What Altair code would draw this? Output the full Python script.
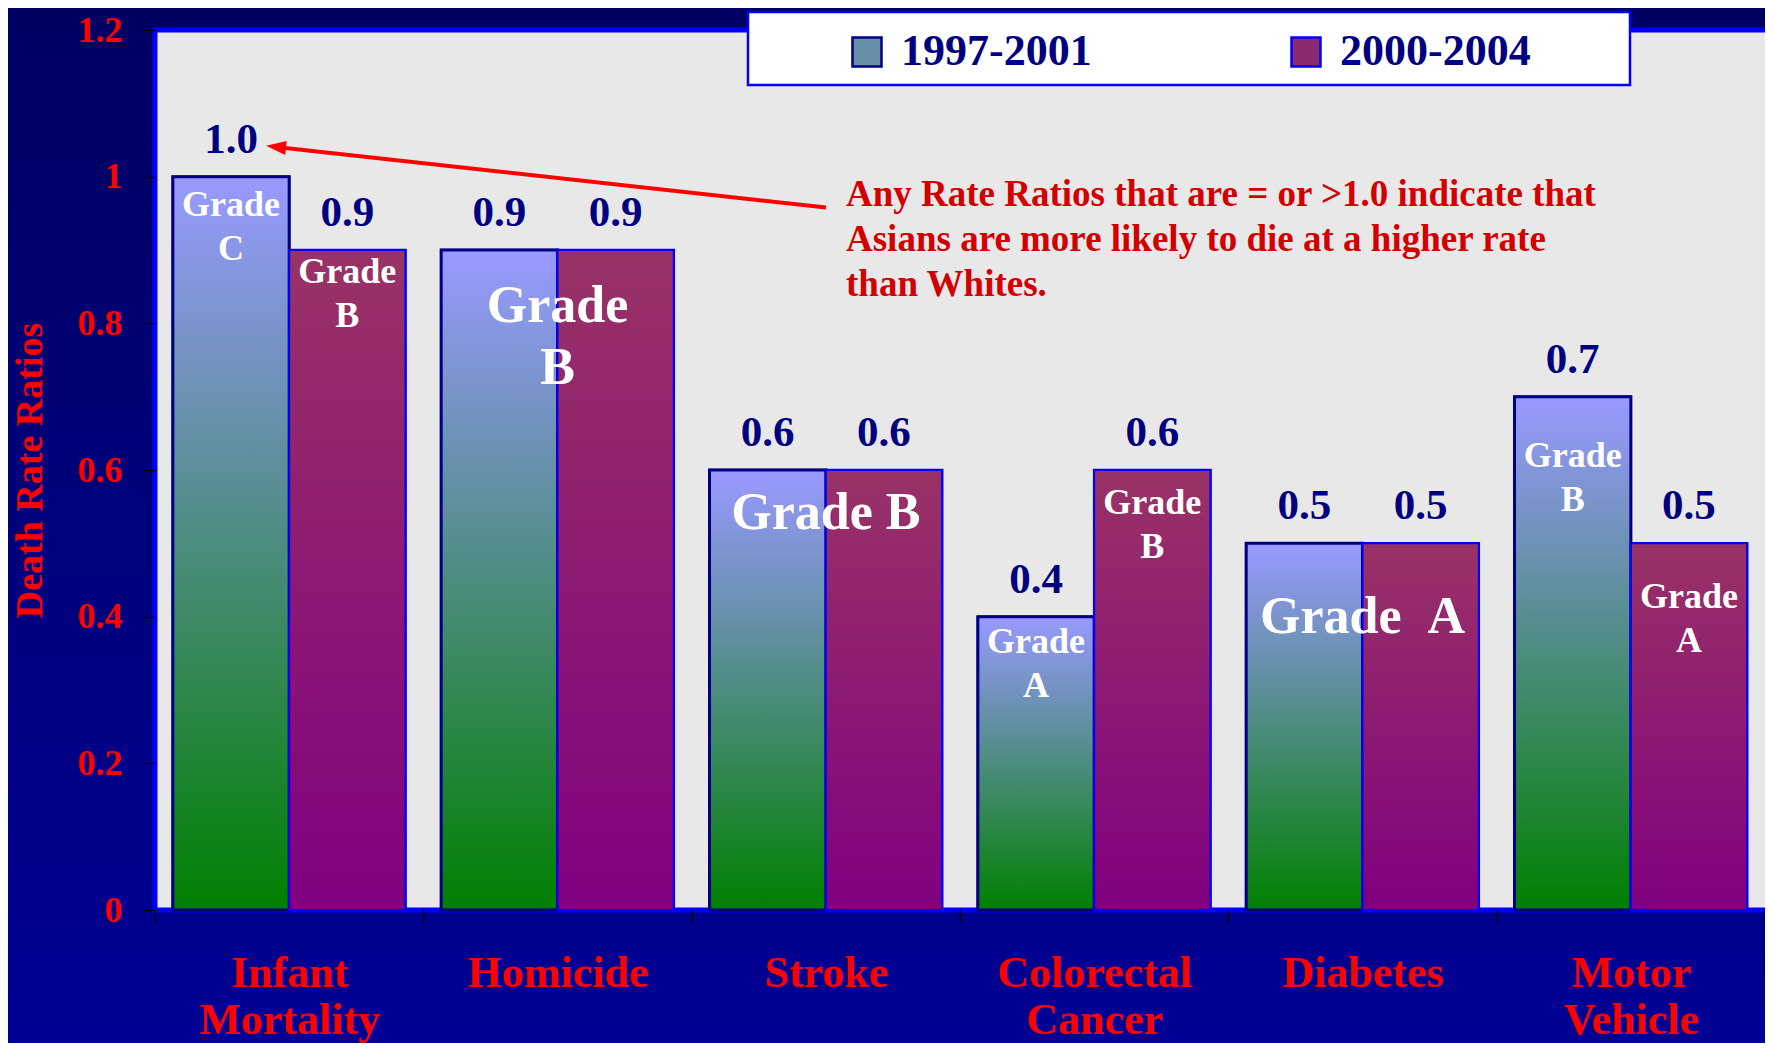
import altair as alt
import pandas as pd

# ---------------- data ----------------
categories = ["Infant Mortality", "Homicide", "Stroke", "Colorectal Cancer", "Diabetes", "Motor Vehicle"]
series = ["1997-2001", "2000-2004"]
values_1997_2001 = [1.0, 0.9, 0.6, 0.4, 0.5, 0.7]
values_2000_2004 = [0.9, 0.9, 0.6, 0.6, 0.5, 0.5]

# grade labels written inside a single bar (anchor = first text line, in ratio units)
grade_cats = ["Infant Mortality", "Infant Mortality", "Colorectal Cancer", "Colorectal Cancer", "Motor Vehicle", "Motor Vehicle"]
grade_series = ["1997-2001", "2000-2004", "1997-2001", "2000-2004", "1997-2001", "2000-2004"]
grade_text = ["Grade\nC", "Grade\nB", "Grade\nA", "Grade\nB", "Grade\nB", "Grade\nA"]
grade_y = [0.962, 0.870, 0.365, 0.555, 0.619, 0.427]

# grade labels spanning both bars of a category
wide_cats = ["Homicide", "Stroke", "Diabetes"]
wide_text = ["Grade\nB", "Grade B", "Grade\u00a0\u00a0A"]
wide_y = [0.824, 0.542, 0.400]

note_text = ("Any Rate Ratios that are = or >1.0 indicate that\n"
             "Asians are more likely to die at a higher rate\n"
             "than Whites.")
note_y = [0.975]
arrow_tail_y = [0.958]
arrow_head_y = [1.0405]

# ---------------- tables ----------------
df = pd.DataFrame({
    "category": categories * 2,
    "series": [series[0]] * len(categories) + [series[1]] * len(categories),
    "value": values_1997_2001 + values_2000_2004,
})
df["label"] = df["value"].map(lambda v: f"{v:.1f}")

gdf = pd.DataFrame({"category": grade_cats, "series": grade_series, "text": grade_text, "value": grade_y})
wdf = pd.DataFrame({"category": wide_cats, "text": wide_text, "value": wide_y})
ndf = pd.DataFrame({"text": [note_text], "value": note_y})
adf = pd.DataFrame({"value": arrow_tail_y, "value2": arrow_head_y})
one = pd.DataFrame({"k": [0]})

# ---------------- styling ----------------
FONT = "Liberation Serif"
W, H = 1610, 880
TOP = 22

xscale = alt.Scale(domain=categories, paddingInner=0, paddingOuter=0)
oscale = alt.Scale(domain=series, paddingInner=0, paddingOuter=0.1535)
yscale = alt.Scale(domain=[0, 1.2], nice=False)

xaxis = alt.Axis(title=None, labelExpr="split(datum.label, ' ')", labelColor="#ff0000",
                 labelFont=FONT, labelFontSize=44, labelFontWeight="bold", labelLineHeight=47,
                 labelPadding=29, labelAngle=0, labelLimit=400, tickBand="extent", tickSize=12,
                 tickColor="#000000", tickWidth=1.5, domain=False, zindex=1)
yaxis = alt.Axis(title="Death Rate Ratios", values=[0, 0.2, 0.4, 0.6, 0.8, 1.0, 1.2], format="~g",
                 labelColor="#ff0000", labelFont=FONT, labelFontSize=36, labelFontWeight="bold",
                 labelPadding=21, tickSize=12, tickColor="#000000", tickWidth=1.5, domain=False,
                 grid=False, titleColor="#ff0000", titleFont=FONT, titleFontSize=38,
                 titleFontWeight="bold", titlePadding=28, zindex=1)

legend = alt.Legend(title=None, orient="none", legendX=690, legendY=0, direction="horizontal",
                    columns=2, columnPadding=192, symbolType="square", symbolSize=841,
                    symbolStrokeWidth=2.5, labelOffset=12, labelFont=FONT, labelFontSize=44,
                    labelFontWeight="bold", labelColor="#000080", labelLimit=400, padding=0)

grad1 = alt.Gradient(gradient="linear", x1=0, x2=0, y1=0, y2=1,
                     stops=[alt.GradientStop(color="#9999ff", offset=0),
                            alt.GradientStop(color="#008000", offset=1)])
grad2 = alt.Gradient(gradient="linear", x1=0, x2=0, y1=0, y2=1,
                     stops=[alt.GradientStop(color="#993366", offset=0),
                            alt.GradientStop(color="#800080", offset=1)])
bggrad = alt.Gradient(gradient="linear", x1=0, x2=0, y1=0, y2=1,
                      stops=[alt.GradientStop(color="#000062", offset=0),
                             alt.GradientStop(color="#000094", offset=1)])


def X():
    return alt.X("category:N", scale=xscale, axis=xaxis, title=None)


def XO():
    return alt.XOffset("series:N", scale=oscale)


def Y():
    return alt.Y("value:Q", scale=yscale, axis=yaxis, title="Death Rate Ratios")


# ---------------- layers ----------------
bg = alt.Chart(one).mark_rect(fill=bggrad).encode(
    x=alt.value(-147), x2=alt.value(W + 30), y=alt.value(-TOP), y2=alt.value(H + 140))

plot_area = alt.Chart(one).mark_rect(fill="#e8e8e8", stroke="#0000ff", strokeWidth=5).encode(
    x=alt.value(0), x2=alt.value(W + 30), y=alt.value(0), y2=alt.value(H))

legend_box = alt.Chart(one).mark_rect(fill="#ffffff", stroke="#0000ff", strokeWidth=2.5).encode(
    x=alt.value(593), x2=alt.value(1475), y=alt.value(-18), y2=alt.value(55))

bars = alt.Chart(df).mark_bar(strokeWidth=2.5).encode(
    x=X(), xOffset=XO(), y=Y(),
    color=alt.Color("series:N", scale=alt.Scale(domain=series, range=["#6790a8", "#8c2a70"]), legend=legend),
    stroke=alt.Stroke("series:N", scale=alt.Scale(domain=series, range=["#000080", "#0000ff"]), legend=legend),
)

bars1 = alt.Chart(df).transform_filter(alt.datum.series == series[0]).mark_bar(
    fill=grad1, stroke="#000080", strokeWidth=3).encode(x=X(), xOffset=XO(), y=Y())
bars2 = alt.Chart(df).transform_filter(alt.datum.series == series[1]).mark_bar(
    fill=grad2, stroke="#0000ff", strokeWidth=2).encode(x=X(), xOffset=XO(), y=Y())

value_labels = alt.Chart(df).mark_text(dy=-37, font=FONT, fontSize=43, fontWeight="bold",
                                       color="#000080", baseline="middle").encode(
    x=X(), xOffset=XO(), y=Y(), text="label:N")

grade_labels = alt.Chart(gdf).mark_text(lineBreak="\n", lineHeight=44, font=FONT, fontSize=36,
                                        fontWeight="bold", color="#ffffff", baseline="middle").encode(
    x=X(), xOffset=XO(), y=Y(), text="text:N")

wide_labels = alt.Chart(wdf).mark_text(lineBreak="\n", lineHeight=62, font=FONT, fontSize=52,
                                       fontWeight="bold", color="#ffffff", baseline="middle").encode(
    x=X(), y=Y(), text="text:N")

arrow = alt.Chart(adf).mark_rule(color="#ff0000", strokeWidth=4).encode(
    x=alt.value(671), x2=alt.value(121), y=Y(), y2="value2:Q")

arrow_head = alt.Chart(adf).mark_point(shape="M -1 0 L 1 -0.7 L 1 0.7 Z", filled=True, color="#ff0000",
                                       size=400, angle=6.3, opacity=1).encode(
    x=alt.value(121), y=alt.Y("value2:Q", scale=yscale, axis=yaxis, title="Death Rate Ratios"))

note = alt.Chart(ndf).mark_text(align="left", baseline="middle", lineBreak="\n", lineHeight=45,
                                font=FONT, fontSize=37, fontWeight="bold", color="#d20000").encode(
    x=alt.value(691), y=Y(), text="text:N")

chart = alt.layer(
    bg, plot_area, legend_box, bars, bars1, bars2, value_labels, grade_labels, wide_labels,
    arrow, arrow_head, note
).properties(
    width=W, height=H,
    padding={"left": 147, "top": TOP, "right": 0, "bottom": 133},
    autosize=alt.AutoSizeParams(type="none"),
).configure(background="#000070").configure_view(stroke=None).configure_axis(zindex=1)

chart.save("out.html", embed_options={"renderer": "svg", "actions": False})
